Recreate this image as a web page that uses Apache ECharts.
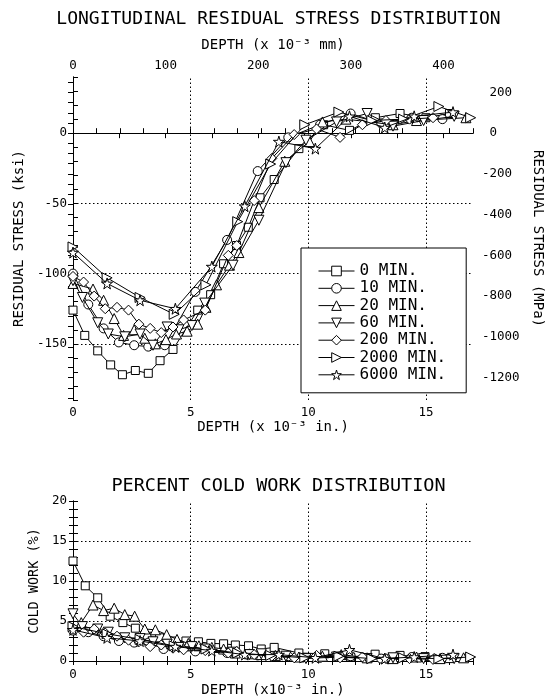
<!DOCTYPE html>
<html><head><meta charset="utf-8">
<script src="https://cdn.jsdelivr.net/npm/echarts@6/dist/echarts.min.js"></script>
<style>html,body{margin:0;padding:0;background:#fff}#c{width:557px;height:698px}</style>
</head><body><div id="c"></div>
<script>
// ---- data (depth in 10^-3 in., stress in ksi, cold work in %) ----
const seriesNames = ['0 MIN.','10 MIN.','20 MIN.','60 MIN.','200 MIN.','2000 MIN.','6000 MIN.'];

const stress0 = [[0,-126],[0.5,-144],[1.05,-155],[1.6,-165],[2.1,-172],[2.65,-169],[3.2,-171],[3.7,-162],[4.25,-154],[5.3,-126],[5.85,-115],[6.4,-93],[6.95,-80],[7.45,-67],[7.95,-46],[8.55,-33],[9.6,-11],[10.65,6],[11.75,2],[12.85,11],[13.9,14],[15.0,11],[16.0,14]];
const stress10 = [[0,-100],[0.65,-122],[1.3,-139],[1.95,-149],[2.6,-151],[3.2,-152],[3.9,-151],[5.2,-113],[6.55,-76],[7.85,-27],[9.15,-3],[10.5,6],[11.8,14],[13.1,7],[14.4,11],[15.7,10]];
const stress20 = [[0,-107],[0.85,-111],[1.3,-119],[1.75,-132],[2.15,-144],[2.6,-140],[3.05,-146],[3.5,-150],[3.95,-147],[4.4,-143],[4.85,-141],[5.3,-136],[5.65,-124],[6.1,-108],[6.65,-94],[7.05,-85],[7.9,-53],[9.0,-20],[10.05,-6],[10.6,8],[11.6,10],[13.6,6],[14.6,9],[16.7,11]];
const stress60 = [[0,-105],[0.4,-117],[1.05,-135],[1.5,-143],[2.2,-145],[2.85,-143],[3.4,-151],[4.0,-138],[4.5,-140],[5.05,-137],[5.6,-121],[6.8,-94],[7.9,-62],[9.05,-21],[9.9,-5],[11.2,8],[12.5,14],[13.6,5],[14.9,9],[16.2,12]];
const stress200 = [[0,-102],[0.45,-106],[0.9,-116],[1.37,-125],[1.87,-124],[2.36,-126],[2.8,-136],[3.28,-139],[3.75,-142],[4.25,-138],[4.7,-133],[5.62,-126],[6.6,-87],[6.96,-80],[7.7,-48],[8.45,-18],[9.4,-1],[10.35,3],[11.35,-3],[12.3,6],[13.3,9],[14.3,10],[15.3,11]];
const stress2000 = [[0,-81],[1.45,-103],[2.85,-117],[4.3,-129],[5.65,-108],[7.0,-63],[8.4,-22],[9.85,6],[11.3,15],[12.7,9],[14.05,10],[15.55,19],[16.9,11]];
const stress6000 = [[0,-85],[1.45,-107],[2.85,-119],[4.35,-125],[5.9,-95],[7.3,-52],[8.75,-6],[10.3,-11],[11.75,12],[13.25,4],[14.5,12],[16.15,15]];

const cold0 = [[0,12.5],[0.52,9.4],[1.05,7.9],[1.58,5.6],[2.12,4.8],[2.65,4.1],[3.14,3.1],[3.68,2.9],[4.2,2.5],[4.8,2.5],[5.33,2.4],[5.86,2.2],[6.4,2.15],[6.9,2.0],[7.46,1.9],[8.0,1.5],[8.55,1.7],[9.6,1.0],[10.7,0.9],[11.8,0.5],[12.84,0.85],[13.9,0.7],[14.96,0.55],[16.0,0.3]];
const cold10 = [[0,3.8],[0.65,3.6],[1.3,3.1],[1.95,2.5],[2.6,2.3],[3.2,2.3],[3.85,1.5],[5.2,1.2],[6.55,1.0],[7.85,0.7],[9.15,0.6],[10.5,0.4],[11.8,0.6],[13.1,0.3],[14.4,0.5],[15.7,0.4]];
const cold20 = [[0.35,4.8],[0.85,7.0],[1.3,6.3],[1.75,6.6],[2.2,5.8],[2.62,5.6],[3.05,4.0],[3.5,3.9],[3.98,3.3],[4.42,2.7],[4.9,2.2],[5.35,1.9],[5.9,1.7],[6.4,1.5],[6.9,1.0],[7.5,0.9],[8.0,0.8],[8.6,0.7],[9.6,0.5],[10.6,0.6],[11.4,0.8],[12.5,0.4],[13.6,0.3],[14.6,0.5],[15.6,0.3],[16.6,0.4]];
const cold60 = [[0,5.9],[0.4,4.3],[1.05,4.0],[1.5,3.6],[2.2,2.9],[2.85,2.8],[3.4,2.4],[4.0,2.1],[4.5,1.7],[5.05,1.8],[5.6,1.5],[6.8,1.1],[7.5,0.8],[8.0,0.9],[9.05,0.6],[9.9,0.3],[11.2,0.5],[12.5,0.3],[13.6,0.4],[14.9,0.3],[16.2,0.3]];
const cold200 = [[0,4.1],[0.45,3.6],[0.9,4.0],[1.37,3.5],[1.87,3.1],[2.36,2.6],[2.8,2.4],[3.28,1.8],[3.75,2.0],[4.25,1.6],[4.7,1.4],[5.62,1.3],[6.6,1.0],[6.96,1.2],[7.7,0.8],[8.45,0.6],[9.4,0.4],[10.35,0.7],[11.35,0.4],[12.3,0.5],[13.3,0.3],[14.3,0.3],[15.3,0.2]];
const cold2000 = [[0,4.3],[1.45,3.4],[2.85,2.7],[4.3,1.9],[5.65,1.5],[7.0,1.0],[8.4,0.7],[9.85,0.4],[11.3,0.6],[12.7,0.3],[14.05,0.4],[15.55,0.3],[16.9,0.5]];
const cold6000 = [[0,3.9],[1.45,2.9],[2.85,2.5],[4.35,1.8],[5.9,1.3],[7.3,0.8],[8.75,0.8],[10.3,0.4],[11.75,1.4],[13.25,0.3],[14.5,0.5],[16.15,0.8]];

const depthInLabels = [0,5,10,15];
const depthMmLabels = [0,100,200,300,400];
const ksiLabels = [-150,-100,-50,0];
const mpaLabels = [-1200,-1000,-800,-600,-400,-200,0,200];
const coldLabels = [0,5,10,15,20];
const depthGrid = [5,10,15];
const ksiGrid = [-150,-100,-50];
const coldGrid = [5,10,15];

// ---- helpers ----
const KSI2MPA = 6.894757;
const X_MAX = 17, KSI_MIN = -190, KSI_MAX = 40;
function range(a,b,s){const r=[];for(let v=a;v<=b+1e-9;v+=s)r.push(+v.toFixed(4));return r;}
const FONT = 'DejaVu Sans Mono';
const symbols = [
  'rect','circle','triangle',
  'path://M0,0 L10,0 L5,9 Z',
  'diamond',
  'path://M0,0 L9,5 L0,10 Z',
  'path://M50,0 L61,35 L98,35 L68,57 L79,91 L50,70 L21,91 L32,57 L2,35 L39,35 Z'
];
const sizes = [8,9,10,10,10,10,11];
const stressData = [stress0,stress10,stress20,stress60,stress200,stress2000,stress6000];
const coldData = [cold0,cold10,cold20,cold60,cold200,cold2000,cold6000];

const lbl = {fontFamily:FONT,fontSize:12.5,color:'#000'};
const axLine = {show:true,lineStyle:{color:'#000',width:1}};
const DOT = {color:'#000',type:[1.5,2.5],width:1};

function mkSeries(data,i,xi,yi,extra){
  return Object.assign({
    type:'line', name:seriesNames[i], data:data, xAxisIndex:xi, yAxisIndex:yi,
    symbol:symbols[i], symbolSize:sizes[i], showSymbol:true,
    itemStyle:{color:'#fff',borderColor:'#000',borderWidth:1},
    lineStyle:{color:'#000',width:1}, emphasis:{disabled:true}, z:3+i
  }, extra||{});
}
function gridMarks(xs, ys, solidY){
  let d = xs.map(v=>({xAxis:v,lineStyle:DOT})).concat(ys.map(v=>({yAxis:v,lineStyle:DOT})));
  if(solidY!==undefined) d.push({yAxis:solidY,lineStyle:{color:'#000',type:'solid',width:1.2}});
  return {markLine:{silent:true,symbol:['none','none'],label:{show:false},animation:false,z:1,data:d}};
}

const series = [];
stressData.forEach((d,i)=>series.push(mkSeries(d,i,0,0,i===0?gridMarks(depthGrid,ksiGrid,0):null)));
coldData.forEach((d,i)=>series.push(mkSeries(d,i,2,2,i===0?gridMarks(depthGrid,coldGrid):null)));

const option = {
  animation:false,
  backgroundColor:'#fff',
  title:[
    {text:'LONGITUDINAL RESIDUAL STRESS DISTRIBUTION',left:'center',top:5,textStyle:{fontFamily:FONT,fontSize:18,fontWeight:'normal',color:'#000'}},
    {text:'PERCENT COLD WORK DISTRIBUTION',left:'center',top:472,textStyle:{fontFamily:FONT,fontSize:18.5,fontWeight:'normal',color:'#000'}}
  ],
  legend:{
    data:seriesNames, orient:'vertical', left:301, top:248,
    backgroundColor:'#fff', borderColor:'#000', borderWidth:1,
    padding:[15,20,10,17], itemGap:1.3, itemWidth:36, itemHeight:12,
    lineStyle:{color:'#000',width:1,type:'solid'},
    itemStyle:{color:'#fff',borderColor:'#000',borderWidth:1},
    textStyle:{fontFamily:FONT,fontSize:16,color:'#000'},
    selectedMode:false
  },
  grid:[
    {left:73,top:77,width:400,height:323},
    {left:73,top:501,width:400,height:161}
  ],
  xAxis:[
    {type:'value',gridIndex:0,position:'bottom',min:0,max:X_MAX,
     axisLine:axLine, axisTick:{inside:true,length:5,customValues:range(0,17,1),lineStyle:{color:'#000'}},
     axisLabel:Object.assign({customValues:depthInLabels,margin:6},lbl),
     splitLine:{show:false},
     name:'DEPTH (x 10⁻³ in.)',nameLocation:'middle',nameGap:18,nameTextStyle:{fontFamily:FONT,fontSize:14,color:'#000'}},
    {type:'value',gridIndex:0,position:'top',min:0,max:X_MAX*25.4,
     axisLine:axLine, axisTick:{inside:true,length:5,customValues:range(0,400,50),lineStyle:{color:'#000'}},
     axisLabel:Object.assign({customValues:depthMmLabels,margin:5},lbl),
     splitLine:{show:false},
     name:'DEPTH (x 10⁻³ mm)',nameLocation:'middle',nameGap:25,nameTextStyle:{fontFamily:FONT,fontSize:14,color:'#000'}},
    {type:'value',gridIndex:1,position:'bottom',min:0,max:X_MAX,
     axisLine:axLine, axisTick:{inside:true,length:5,customValues:range(0,17,1),lineStyle:{color:'#000'}},
     axisLabel:Object.assign({customValues:depthInLabels,margin:7},lbl),
     splitLine:{show:false},
     name:'DEPTH (x10⁻³ in.)',nameLocation:'middle',nameGap:22,nameTextStyle:{fontFamily:FONT,fontSize:14,color:'#000'}},
    {type:'value',gridIndex:1,position:'top',min:0,max:X_MAX,
     axisLine:axLine, axisTick:{inside:true,length:4,customValues:range(0,17,1),lineStyle:{color:'#000'}},
     axisLabel:{show:false}, splitLine:{show:false}}
  ],
  yAxis:[
    {type:'value',gridIndex:0,position:'left',min:KSI_MIN,max:KSI_MAX,
     axisLine:axLine, axisTick:{inside:true,length:5,customValues:range(-190,40,10),lineStyle:{color:'#000'}},
     axisLabel:Object.assign({customValues:ksiLabels,margin:6},lbl),
     splitLine:{show:false},
     name:'RESIDUAL STRESS (ksi)',nameLocation:'middle',nameGap:46,nameRotate:90,nameTextStyle:{fontFamily:FONT,fontSize:14,color:'#000'}},
    {type:'value',gridIndex:0,position:'right',min:KSI_MIN*KSI2MPA,max:KSI_MAX*KSI2MPA,
     axisLine:axLine, axisTick:{inside:true,length:5,customValues:range(-1300,250,50),lineStyle:{color:'#000'}},
     axisLabel:Object.assign({customValues:mpaLabels,margin:9,formatter:v=>(v>=0?' ':'')+v},lbl),
     splitLine:{show:false},
     name:'RESIDUAL STRESS (MPa)',nameLocation:'middle',nameGap:58,nameRotate:-90,nameTextStyle:{fontFamily:FONT,fontSize:14,color:'#000'}},
    {type:'value',gridIndex:1,position:'left',min:0,max:20,
     axisLine:axLine, axisTick:{inside:true,length:5,customValues:range(0,20,1),lineStyle:{color:'#000'}},
     axisLabel:Object.assign({customValues:coldLabels,margin:6},lbl),
     splitLine:{show:false},
     name:'COLD WORK (%)',nameLocation:'middle',nameGap:30,nameRotate:90,nameTextStyle:{fontFamily:FONT,fontSize:13.5,color:'#000'}},
    {type:'value',gridIndex:1,position:'right',min:0,max:20,
     axisLine:axLine, axisTick:{inside:true,length:4,customValues:range(0,20,1),lineStyle:{color:'#000'}},
     axisLabel:{show:false}, splitLine:{show:false}}
  ],
  series:series
};
const chart = echarts.init(document.getElementById('c'),null,{renderer:'canvas'});
chart.setOption(option);
</script>
</body></html>
